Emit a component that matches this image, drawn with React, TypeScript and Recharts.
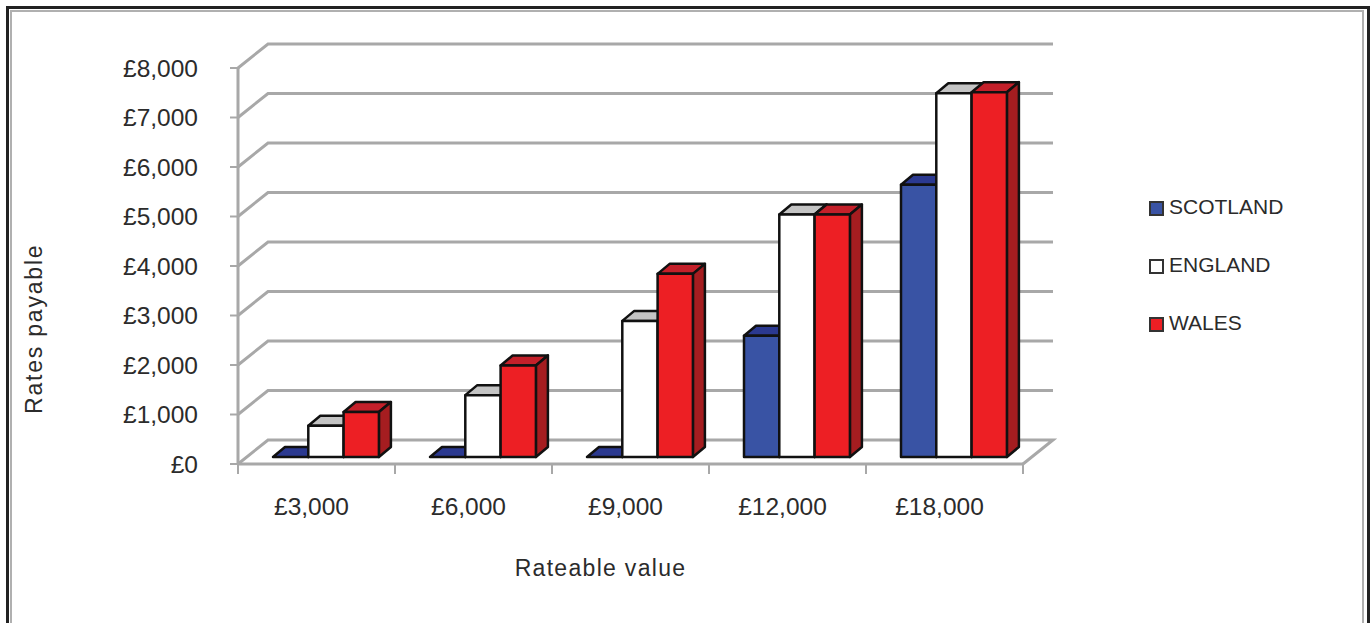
import { BarChart, Bar, XAxis, YAxis, CartesianGrid, Legend } from 'recharts'

// ─── Data ─────────────────────────────────────────────────────────────────────

const rateableValues = ['£3,000', '£6,000', '£9,000', '£12,000', '£18,000']
const scotland = [0, 0, 0, 2450, 5500]
const england = [630, 1250, 2750, 4900, 7350]
const wales = [910, 1850, 3700, 4900, 7370]
const payableTicks = [0, 1000, 2000, 3000, 4000, 5000, 6000, 7000, 8000]

const chartData = rateableValues.map((label, i) => ({
  label,
  scotland: scotland[i],
  england: england[i],
  wales: wales[i],
}))

// ─── Drawing constants ────────────────────────────────────────────────────────

const FONT = '"Liberation Sans", Arial, sans-serif'
const TEXT = '#2b2b2b'
const GRID = '#a8a8a8'
const PLOT_LEFT = 238
const PLOT_RIGHT = 1023
const PLOT_TOP = 68
const PLOT_BOTTOM = 464

// offset of the back wall from the front plane
const WALL_DX = 30
const WALL_DY = 24
// depth of each box, and where the row of boxes sits on the floor
const BOX_DX = 12
const BOX_DY = 10
const ROW_DX = 9
const ROW_DY = 7

const money = (v: number) => `£${v.toLocaleString('en-GB')}`

// ─── Custom shapes ────────────────────────────────────────────────────────────

function Box3D(props: any) {
  const { x, y, width, height, fill, topFill, sideFill } = props
  const l = x + ROW_DX
  const r = l + width
  const t = y - ROW_DY
  const b = t + height
  return (
    <g stroke="#111" strokeWidth={2.5} strokeLinejoin="round">
      <polygon
        points={`${l},${t} ${l + BOX_DX},${t - BOX_DY} ${r + BOX_DX},${t - BOX_DY} ${r},${t}`}
        fill={topFill}
      />
      <polygon
        points={`${r},${t} ${r + BOX_DX},${t - BOX_DY} ${r + BOX_DX},${b - BOX_DY} ${r},${b}`}
        fill={sideFill}
      />
      <rect x={l} y={t} width={width} height={height} fill={fill} />
    </g>
  )
}

function WallLine(props: any) {
  const { x1, x2, y1 } = props
  const backY = y1 - WALL_DY
  const wall = `M${x1},${y1} L${x1 + WALL_DX},${backY} L${x2 + WALL_DX},${backY}`
  const floorEdge = y1 === PLOT_BOTTOM ? ` L${x2},${y1}` : ''
  return <path d={wall + floorEdge} fill="none" stroke={GRID} strokeWidth={3} />
}

function CategoryTick(props: any) {
  const { x, index, payload } = props
  const band = (PLOT_RIGHT - PLOT_LEFT) / rateableValues.length
  const left = x - band / 2
  const tickEnd = PLOT_BOTTOM + 10
  return (
    <g>
      <line x1={left} x2={left} y1={PLOT_BOTTOM} y2={tickEnd} stroke={GRID} strokeWidth={2} />
      {index === rateableValues.length - 1 && (
        <line x1={left + band} x2={left + band} y1={PLOT_BOTTOM} y2={tickEnd} stroke={GRID} strokeWidth={2} />
      )}
      <text
        x={x - 5}
        y={PLOT_BOTTOM + 51}
        textAnchor="middle"
        fontFamily={FONT}
        fontSize={24.5}
        fill={TEXT}
      >
        {payload.value}
      </text>
    </g>
  )
}

function SeriesLegend({ payload }: any) {
  return (
    <div style={{ fontFamily: FONT, fontSize: 21, color: TEXT, lineHeight: '24px' }}>
      {(payload ?? []).map((entry: any) => (
        <div
          key={entry.value}
          style={{ display: 'flex', alignItems: 'center', height: 24, marginBottom: 34 }}
        >
          <span
            style={{
              display: 'inline-block',
              boxSizing: 'border-box',
              width: 15,
              height: 15,
              marginRight: 5,
              marginTop: 3,
              background: entry.color,
              border: '2px solid #333',
            }}
          />
          {entry.value}
        </div>
      ))}
    </div>
  )
}

// ─── Chart ────────────────────────────────────────────────────────────────────

export default function App() {
  return (
    <div
      style={{
        position: 'absolute',
        left: 0,
        top: 0,
        width: 1371,
        height: 623,
        overflow: 'hidden',
        background: '#fff',
      }}
    >
      {/* double frame, open at the bottom */}
      <div
        style={{
          position: 'absolute',
          left: 6,
          top: 6,
          width: 1358,
          height: 640,
          border: '3px solid #222',
        }}
      />
      <div
        style={{
          position: 'absolute',
          left: 10,
          top: 10,
          width: 1350,
          height: 640,
          border: '2px solid #b0b0b0',
        }}
      />
      <div style={{ position: 'absolute', left: 0, top: 0 }}>
        <BarChart
          width={1371}
          height={623}
          data={chartData}
          barSize={35.3}
          barGap={0}
          margin={{ top: PLOT_TOP, right: 1371 - PLOT_RIGHT, bottom: 0, left: 22 }}
        >
          <CartesianGrid vertical={false} horizontal={(p: any) => <WallLine key={p.y1} {...p} />} />
          <XAxis
            dataKey="label"
            height={623 - PLOT_BOTTOM}
            axisLine={{ stroke: GRID, strokeWidth: 3 }}
            tickLine={false}
            interval={0}
            tick={(p: any) => <CategoryTick {...p} />}
            label={{
              value: 'Rateable value',
              position: 'insideBottom',
              offset: 47,
              dx: -30,
              fontFamily: FONT,
              fontSize: 23,
              letterSpacing: 1.3,
              fill: TEXT,
            }}
          />
          <YAxis
            width={PLOT_LEFT - 22}
            domain={[0, 8000]}
            ticks={payableTicks}
            tickFormatter={money}
            tickSize={8}
            tickMargin={32}
            axisLine={{ stroke: GRID, strokeWidth: 3 }}
            tickLine={{ stroke: GRID, strokeWidth: 2 }}
            tick={{ fontFamily: FONT, fontSize: 24.5, fill: TEXT }}
            label={{
              value: 'Rates payable',
              angle: -90,
              position: 'insideLeft',
              dx: 7,
              dy: 148,
              fontFamily: FONT,
              fontSize: 23,
              letterSpacing: 1.8,
              fill: TEXT,
            }}
          />
          <Legend
            layout="horizontal"
            verticalAlign="middle"
            align="center"
            itemSorter={null}
            content={(p: any) => <SeriesLegend {...p} />}
            wrapperStyle={{ left: 1149, top: 195, width: 180 }}
          />
          <Bar
            dataKey="scotland"
            name="SCOTLAND"
            fill="#3953a4"
            isAnimationActive={false}
            shape={(p: any) => <Box3D {...p} topFill="#2b3990" sideFill="#2b3990" />}
          />
          <Bar
            dataKey="england"
            name="ENGLAND"
            fill="#ffffff"
            isAnimationActive={false}
            shape={(p: any) => <Box3D {...p} topFill="#c4c4c4" sideFill="#c4c4c4" />}
          />
          <Bar
            dataKey="wales"
            name="WALES"
            fill="#ed1f24"
            isAnimationActive={false}
            shape={(p: any) => <Box3D {...p} topFill="#c4202a" sideFill="#a51d20" />}
          />
        </BarChart>
      </div>
    </div>
  )
}
